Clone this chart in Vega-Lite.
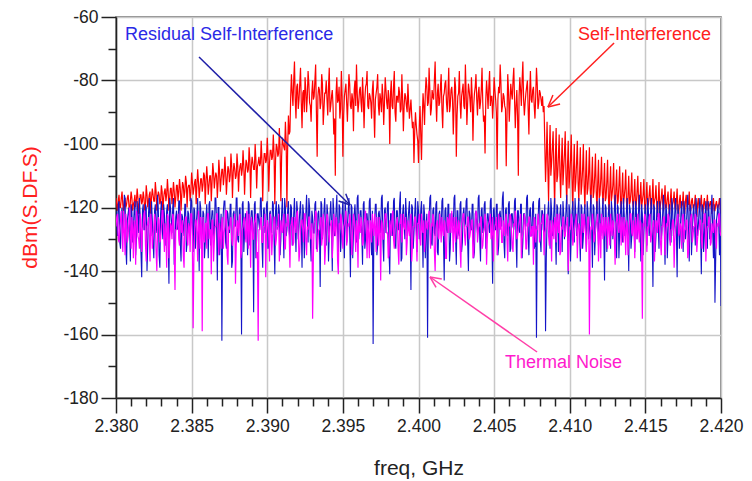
{
"$schema": "https://vega.github.io/schema/vega-lite/v6.json",
"width": 605, "height": 381,
"autosize": "none",
"padding": {"left": 116, "top": 17, "right": 31, "bottom": 83},
"background": "white",
"config": {"font": "Liberation Sans", "view": {"stroke": "#666", "strokeWidth": 1.5}},
"datasets": {
"d": [
{"f":2.3800,"a":-117,"b":-121,"c":-126},{"f":2.3801,"a":-121,"b":-129,"c":-122},{"f":2.3802,"a":-116,"b":-118,"c":-131},{"f":2.3803,"a":-120,"b":-133,"c":-124},{"f":2.3804,"a":-115,"b":-120,"c":-128},
{"f":2.3805,"a":-122,"b":-127,"c":-121},{"f":2.3806,"a":-117,"b":-117,"c":-135},{"f":2.3807,"a":-119,"b":-138,"c":-125},{"f":2.3808,"a":-116,"b":-122,"c":-129},{"f":2.3809,"a":-123,"b":-126,"c":-120},
{"f":2.3810,"a":-115,"b":-119,"c":-133},{"f":2.3811,"a":-121,"b":-131,"c":-127},{"f":2.3812,"a":-118,"b":-121,"c":-124},{"f":2.3813,"a":-120,"b":-135,"c":-138},{"f":2.3814,"a":-114,"b":-118,"c":-123},
{"f":2.3815,"a":-122,"b":-128,"c":-130},{"f":2.3816,"a":-116,"b":-123,"c":-122},{"f":2.3817,"a":-119,"b":-142,"c":-134},{"f":2.3818,"a":-115,"b":-119,"c":-126},{"f":2.3819,"a":-121,"b":-127,"c":-121},
{"f":2.3820,"a":-113,"b":-120,"c":-137},{"f":2.3821,"a":-120,"b":-132,"c":-125},{"f":2.3822,"a":-116,"b":-117,"c":-129},{"f":2.3823,"a":-122,"b":-129,"c":-122},{"f":2.3824,"a":-114,"b":-124,"c":-133},
{"f":2.3825,"a":-118,"b":-136,"c":-127},{"f":2.3826,"a":-112,"b":-119,"c":-124},{"f":2.3827,"a":-121,"b":-126,"c":-140},{"f":2.3828,"a":-115,"b":-121,"c":-123},{"f":2.3829,"a":-119,"b":-139,"c":-131},
{"f":2.3830,"a":-113,"b":-118,"c":-126},{"f":2.3831,"a":-122,"b":-130,"c":-121},{"f":2.3832,"a":-115,"b":-122,"c":-134},{"f":2.3833,"a":-118,"b":-127,"c":-128},{"f":2.3834,"a":-111,"b":-119,"c":-122},
{"f":2.3835,"a":-121,"b":-144,"c":-136},{"f":2.3836,"a":-114,"b":-120,"c":-125},{"f":2.3837,"a":-119,"b":-128,"c":-130},{"f":2.3838,"a":-112,"b":-117,"c":-123},{"f":2.3839,"a":-120,"b":-133,"c":-146},
{"f":2.3840,"a":-113,"b":-121,"c":-127},{"f":2.3841,"a":-118,"b":-126,"c":-122},{"f":2.3842,"a":-111,"b":-118,"c":-132},{"f":2.3843,"a":-121,"b":-137,"c":-126},{"f":2.3844,"a":-112,"b":-123,"c":-124},
{"f":2.3845,"a":-117,"b":-129,"c":-139},{"f":2.3846,"a":-110,"b":-119,"c":-123},{"f":2.3847,"a":-120,"b":-131,"c":-130},{"f":2.3848,"a":-113,"b":-122,"c":-125},{"f":2.3849,"a":-118,"b":-127,"c":-134},
{"f":2.3850,"a":-109,"b":-118,"c":-122},{"f":2.3851,"a":-116,"b":-134,"c":-158},{"f":2.3852,"a":-112,"b":-121,"c":-128},{"f":2.3853,"a":-119,"b":-126,"c":-124},{"f":2.3854,"a":-108,"b":-117,"c":-137},
{"f":2.3855,"a":-117,"b":-140,"c":-126},{"f":2.3856,"a":-111,"b":-120,"c":-123},{"f":2.3857,"a":-115,"b":-128,"c":-159},{"f":2.3858,"a":-109,"b":-122,"c":-129},{"f":2.3859,"a":-119,"b":-131,"c":-125},
{"f":2.3860,"a":-107,"b":-119,"c":-133},{"f":2.3861,"a":-116,"b":-136,"c":-122},{"f":2.3862,"a":-110,"b":-118,"c":-127},{"f":2.3863,"a":-118,"b":-125,"c":-141},{"f":2.3864,"a":-106,"b":-121,"c":-124},
{"f":2.3865,"a":-114,"b":-130,"c":-131},{"f":2.3866,"a":-109,"b":-117,"c":-126},{"f":2.3867,"a":-117,"b":-143,"c":-122},{"f":2.3868,"a":-105,"b":-120,"c":-135},{"f":2.3869,"a":-115,"b":-127,"c":-128},
{"f":2.3870,"a":-108,"b":-162,"c":-124},{"f":2.3871,"a":-113,"b":-121,"c":-133},{"f":2.3872,"a":-104,"b":-118,"c":-126},{"f":2.3873,"a":-116,"b":-133,"c":-121},{"f":2.3874,"a":-107,"b":-122,"c":-138},
{"f":2.3875,"a":-112,"b":-128,"c":-127},{"f":2.3876,"a":-103,"b":-119,"c":-123},{"f":2.3877,"a":-117,"b":-137,"c":-132},{"f":2.3878,"a":-106,"b":-121,"c":-125},{"f":2.3879,"a":-111,"b":-126,"c":-144},
{"f":2.3880,"a":-103,"b":-117,"c":-124},{"f":2.3881,"a":-115,"b":-131,"c":-129},{"f":2.3882,"a":-107,"b":-120,"c":-122},{"f":2.3883,"a":-110,"b":-160,"c":-134},{"f":2.3884,"a":-102,"b":-118,"c":-126},
{"f":2.3885,"a":-116,"b":-128,"c":-123},{"f":2.3886,"a":-105,"b":-122,"c":-131},{"f":2.3887,"a":-109,"b":-135,"c":-127},{"f":2.3888,"a":-101,"b":-119,"c":-122},{"f":2.3889,"a":-117,"b":-125,"c":-139},
{"f":2.3890,"a":-104,"b":-121,"c":-125},{"f":2.3891,"a":-108,"b":-153,"c":-130},{"f":2.3892,"a":-100,"b":-118,"c":-124},{"f":2.3893,"a":-114,"b":-130,"c":-136},{"f":2.3894,"a":-106,"b":-122,"c":-162},
{"f":2.3895,"a":-107,"b":-127,"c":-127},{"f":2.3896,"a":-99,"b":-117,"c":-123},{"f":2.3897,"a":-118,"b":-139,"c":-131},{"f":2.3898,"a":-103,"b":-120,"c":-126},{"f":2.3899,"a":-106,"b":-126,"c":-142},
{"f":2.3900,"a":-98,"b":-118,"c":-124},{"f":2.3901,"a":-115,"b":-132,"c":-129},{"f":2.3902,"a":-102,"b":-121,"c":-122},{"f":2.3903,"a":-105,"b":-128,"c":-135},{"f":2.3904,"a":-97,"b":-119,"c":-127},
{"f":2.3905,"a":-119,"b":-141,"c":-123},{"f":2.3906,"a":-100,"b":-118,"c":-130},{"f":2.3907,"a":-104,"b":-125,"c":-126},{"f":2.3908,"a":-95,"b":-121,"c":-137},{"f":2.3909,"a":-118,"b":-130,"c":-124},
{"f":2.3910,"a":-98,"b":-117,"c":-128},{"f":2.3911,"a":-101,"b":-136,"c":-122},{"f":2.3912,"a":-93,"b":-120,"c":-133},{"f":2.3913,"a":-120,"b":-127,"c":-126},{"f":2.3914,"a":-91,"b":-118,"c":-124},
{"f":2.3915,"a":-96,"b":-131,"c":-139},{"f":2.3916,"a":-78,"b":-120,"c":-125},{"f":2.3917,"a":-88,"b":-129,"c":-132},{"f":2.3918,"a":-74,"b":-117,"c":-123},{"f":2.3919,"a":-92,"b":-134,"c":-128},
{"f":2.3920,"a":-81,"b":-121,"c":-121},{"f":2.3921,"a":-86,"b":-126,"c":-137},{"f":2.3922,"a":-76,"b":-118,"c":-126},{"f":2.3923,"a":-95,"b":-139,"c":-124},{"f":2.3924,"a":-83,"b":-122,"c":-131},
{"f":2.3925,"a":-79,"b":-127,"c":-122},{"f":2.3926,"a":-90,"b":-116,"c":-135},{"f":2.3927,"a":-77,"b":-131,"c":-127},{"f":2.3928,"a":-87,"b":-120,"c":-123},{"f":2.3929,"a":-93,"b":-137,"c":-130},
{"f":2.3930,"a":-80,"b":-123,"c":-155},{"f":2.3931,"a":-85,"b":-128,"c":-125},{"f":2.3932,"a":-75,"b":-118,"c":-121},{"f":2.3933,"a":-104,"b":-133,"c":-134},{"f":2.3934,"a":-82,"b":-121,"c":-127},
{"f":2.3935,"a":-89,"b":-145,"c":-124},{"f":2.3936,"a":-78,"b":-119,"c":-132},{"f":2.3937,"a":-94,"b":-126,"c":-122},{"f":2.3938,"a":-84,"b":-117,"c":-138},{"f":2.3939,"a":-80,"b":-132,"c":-126},
{"f":2.3940,"a":-91,"b":-122,"c":-123},{"f":2.3941,"a":-76,"b":-128,"c":-131},{"f":2.3942,"a":-88,"b":-118,"c":-125},{"f":2.3943,"a":-83,"b":-140,"c":-136},{"f":2.3944,"a":-97,"b":-121,"c":-122},
{"f":2.3945,"a":-110,"b":-127,"c":-129},{"f":2.3946,"a":-79,"b":-116,"c":-124},{"f":2.3947,"a":-86,"b":-134,"c":-141},{"f":2.3948,"a":-92,"b":-120,"c":-127},{"f":2.3949,"a":-77,"b":-129,"c":-123},
{"f":2.3950,"a":-104,"b":-118,"c":-133},{"f":2.3951,"a":-85,"b":-136,"c":-125},{"f":2.3952,"a":-81,"b":-122,"c":-121},{"f":2.3953,"a":-93,"b":-126,"c":-130},{"f":2.3954,"a":-78,"b":-117,"c":-126},
{"f":2.3955,"a":-88,"b":-142,"c":-124},{"f":2.3956,"a":-84,"b":-120,"c":-135},{"f":2.3957,"a":-96,"b":-128,"c":-122},{"f":2.3958,"a":-80,"b":-119,"c":-128},{"f":2.3959,"a":-75,"b":-131,"c":-124},
{"f":2.3960,"a":-90,"b":-116,"c":-139},{"f":2.3961,"a":-83,"b":-125,"c":-127},{"f":2.3962,"a":-87,"b":-121,"c":-123},{"f":2.3963,"a":-79,"b":-138,"c":-132},{"f":2.3964,"a":-95,"b":-118,"c":-125},
{"f":2.3965,"a":-82,"b":-130,"c":-121},{"f":2.3966,"a":-77,"b":-122,"c":-136},{"f":2.3967,"a":-89,"b":-127,"c":-128},{"f":2.3968,"a":-85,"b":-117,"c":-124},{"f":2.3969,"a":-92,"b":-135,"c":-131},
{"f":2.3970,"a":-80,"b":-163,"c":-126},{"f":2.3971,"a":-98,"b":-124,"c":-122},{"f":2.3972,"a":-84,"b":-119,"c":-134},{"f":2.3973,"a":-78,"b":-132,"c":-127},{"f":2.3974,"a":-91,"b":-121,"c":-123},
{"f":2.3975,"a":-86,"b":-128,"c":-143},{"f":2.3976,"a":-81,"b":-116,"c":-125},{"f":2.3977,"a":-94,"b":-137,"c":-130},{"f":2.3978,"a":-79,"b":-120,"c":-122},{"f":2.3979,"a":-87,"b":-126,"c":-128},
{"f":2.3980,"a":-83,"b":-118,"c":-136},{"f":2.3981,"a":-100,"b":-141,"c":-124},{"f":2.3982,"a":-80,"b":-122,"c":-129},{"f":2.3983,"a":-89,"b":-129,"c":-121},{"f":2.3984,"a":-77,"b":-117,"c":-133},
{"f":2.3985,"a":-93,"b":-133,"c":-126},{"f":2.3986,"a":-85,"b":-121,"c":-123},{"f":2.3987,"a":-82,"b":-127,"c":-138},{"f":2.3988,"a":-90,"b":-115,"c":-125},{"f":2.3989,"a":-78,"b":-136,"c":-131},
{"f":2.3990,"a":-96,"b":-119,"c":-122},{"f":2.3991,"a":-84,"b":-130,"c":-127},{"f":2.3992,"a":-88,"b":-122,"c":-135},{"f":2.3993,"a":-81,"b":-125,"c":-124},{"f":2.3994,"a":-92,"b":-118,"c":-129},
{"f":2.3995,"a":-86,"b":-146,"c":-122},{"f":2.3996,"a":-95,"b":-120,"c":-132},{"f":2.3997,"a":-106,"b":-128,"c":-126},{"f":2.3998,"a":-90,"b":-117,"c":-123},{"f":2.3999,"a":-97,"b":-134,"c":-137},
{"f":2.4000,"a":-106,"b":-121,"c":-125},{"f":2.4001,"a":-88,"b":-127,"c":-130},{"f":2.4002,"a":-105,"b":-118,"c":-122},{"f":2.4003,"a":-84,"b":-139,"c":-128},{"f":2.4004,"a":-94,"b":-122,"c":-134},
{"f":2.4005,"a":-79,"b":-126,"c":-124},{"f":2.4006,"a":-88,"b":-161,"c":-127},{"f":2.4007,"a":-76,"b":-124,"c":-121},{"f":2.4008,"a":-91,"b":-116,"c":-133},{"f":2.4009,"a":-83,"b":-132,"c":-126},
{"f":2.4010,"a":-86,"b":-120,"c":-123},{"f":2.4011,"a":-74,"b":-129,"c":-140},{"f":2.4012,"a":-93,"b":-118,"c":-125},{"f":2.4013,"a":-81,"b":-135,"c":-129},{"f":2.4014,"a":-87,"b":-121,"c":-122},
{"f":2.4015,"a":-78,"b":-127,"c":-131},{"f":2.4016,"a":-95,"b":-117,"c":-127},{"f":2.4017,"a":-84,"b":-143,"c":-124},{"f":2.4018,"a":-80,"b":-120,"c":-136},{"f":2.4019,"a":-90,"b":-128,"c":-123},
{"f":2.4020,"a":-76,"b":-119,"c":-128},{"f":2.4021,"a":-88,"b":-133,"c":-125},{"f":2.4022,"a":-82,"b":-122,"c":-121},{"f":2.4023,"a":-97,"b":-126,"c":-134},{"f":2.4024,"a":-79,"b":-116,"c":-127},
{"f":2.4025,"a":-104,"b":-138,"c":-123},{"f":2.4026,"a":-85,"b":-121,"c":-130},{"f":2.4027,"a":-77,"b":-129,"c":-125},{"f":2.4028,"a":-92,"b":-118,"c":-139},{"f":2.4029,"a":-83,"b":-131,"c":-124},
{"f":2.4030,"a":-88,"b":-120,"c":-122},{"f":2.4031,"a":-75,"b":-125,"c":-132},{"f":2.4032,"a":-94,"b":-117,"c":-126},{"f":2.4033,"a":-81,"b":-140,"c":-123},{"f":2.4034,"a":-86,"b":-122,"c":-129},
{"f":2.4035,"a":-79,"b":-127,"c":-124},{"f":2.4036,"a":-99,"b":-119,"c":-136},{"f":2.4037,"a":-84,"b":-134,"c":-127},{"f":2.4038,"a":-78,"b":-121,"c":-121},{"f":2.4039,"a":-91,"b":-128,"c":-131},
{"f":2.4040,"a":-82,"b":-116,"c":-125},{"f":2.4041,"a":-87,"b":-137,"c":-123},{"f":2.4042,"a":-76,"b":-120,"c":-133},{"f":2.4043,"a":-93,"b":-126,"c":-128},{"f":2.4044,"a":-103,"b":-118,"c":-122},
{"f":2.4045,"a":-80,"b":-131,"c":-138},{"f":2.4046,"a":-89,"b":-122,"c":-126},{"f":2.4047,"a":-77,"b":-128,"c":-124},{"f":2.4048,"a":-85,"b":-117,"c":-130},{"f":2.4049,"a":-92,"b":-144,"c":-123},
{"f":2.4050,"a":-79,"b":-120,"c":-128},{"f":2.4051,"a":-86,"b":-127,"c":-125},{"f":2.4052,"a":-108,"b":-119,"c":-135},{"f":2.4053,"a":-82,"b":-132,"c":-122},{"f":2.4054,"a":-75,"b":-121,"c":-127},
{"f":2.4055,"a":-90,"b":-126,"c":-131},{"f":2.4056,"a":-84,"b":-115,"c":-124},{"f":2.4057,"a":-88,"b":-136,"c":-129},{"f":2.4058,"a":-107,"b":-120,"c":-122},{"f":2.4059,"a":-78,"b":-129,"c":-137},
{"f":2.4060,"a":-93,"b":-118,"c":-126},{"f":2.4061,"a":-81,"b":-133,"c":-123},{"f":2.4062,"a":-86,"b":-122,"c":-132},{"f":2.4063,"a":-76,"b":-127,"c":-125},{"f":2.4064,"a":-95,"b":-117,"c":-121},
{"f":2.4065,"a":-83,"b":-139,"c":-130},{"f":2.4066,"a":-110,"b":-121,"c":-127},{"f":2.4067,"a":-79,"b":-128,"c":-124},{"f":2.4068,"a":-88,"b":-119,"c":-136},{"f":2.4069,"a":-74,"b":-131,"c":-128},
{"f":2.4070,"a":-91,"b":-122,"c":-122},{"f":2.4071,"a":-84,"b":-126,"c":-133},{"f":2.4072,"a":-80,"b":-116,"c":-125},{"f":2.4073,"a":-97,"b":-135,"c":-123},{"f":2.4074,"a":-77,"b":-120,"c":-129},
{"f":2.4075,"a":-87,"b":-129,"c":-126},{"f":2.4076,"a":-82,"b":-118,"c":-138},{"f":2.4077,"a":-92,"b":-132,"c":-124},{"f":2.4078,"a":-76,"b":-161,"c":-127},{"f":2.4079,"a":-89,"b":-125,"c":-122},
{"f":2.4080,"a":-83,"b":-117,"c":-131},{"f":2.4081,"a":-86,"b":-134,"c":-125},{"f":2.4082,"a":-85,"b":-121,"c":-123},{"f":2.4083,"a":-88,"b":-128,"c":-135},{"f":2.4084,"a":-112,"b":-159,"c":-127},
{"f":2.4085,"a":-93,"b":-124,"c":-122},{"f":2.4086,"a":-118,"b":-118,"c":-129},{"f":2.4087,"a":-94,"b":-133,"c":-124},{"f":2.4088,"a":-106,"b":-121,"c":-137},{"f":2.4089,"a":-96,"b":-127,"c":-126},
{"f":2.4090,"a":-120,"b":-117,"c":-123},{"f":2.4091,"a":-95,"b":-138,"c":-131},{"f":2.4092,"a":-110,"b":-120,"c":-125},{"f":2.4093,"a":-97,"b":-129,"c":-122},{"f":2.4094,"a":-117,"b":-119,"c":-134},
{"f":2.4095,"a":-98,"b":-134,"c":-127},{"f":2.4096,"a":-108,"b":-122,"c":-123},{"f":2.4097,"a":-96,"b":-126,"c":-129},{"f":2.4098,"a":-119,"b":-116,"c":-125},{"f":2.4099,"a":-99,"b":-141,"c":-140},
{"f":2.4100,"a":-110,"b":-121,"c":-126},{"f":2.4101,"a":-97,"b":-128,"c":-122},{"f":2.4102,"a":-121,"b":-118,"c":-132},{"f":2.4103,"a":-100,"b":-131,"c":-127},{"f":2.4104,"a":-112,"b":-122,"c":-124},
{"f":2.4105,"a":-99,"b":-126,"c":-136},{"f":2.4106,"a":-118,"b":-117,"c":-125},{"f":2.4107,"a":-101,"b":-137,"c":-130},{"f":2.4108,"a":-113,"b":-120,"c":-122},{"f":2.4109,"a":-100,"b":-129,"c":-128},
{"f":2.4110,"a":-120,"b":-119,"c":-125},{"f":2.4111,"a":-102,"b":-134,"c":-134},{"f":2.4112,"a":-114,"b":-121,"c":-123},{"f":2.4113,"a":-101,"b":-127,"c":-160},{"f":2.4114,"a":-119,"b":-116,"c":-126},
{"f":2.4115,"a":-104,"b":-139,"c":-122},{"f":2.4116,"a":-115,"b":-120,"c":-131},{"f":2.4117,"a":-103,"b":-128,"c":-127},{"f":2.4118,"a":-121,"b":-118,"c":-124},{"f":2.4119,"a":-105,"b":-132,"c":-137},
{"f":2.4120,"a":-116,"b":-122,"c":-125},{"f":2.4121,"a":-104,"b":-126,"c":-122},{"f":2.4122,"a":-119,"b":-117,"c":-130},{"f":2.4123,"a":-106,"b":-143,"c":-127},{"f":2.4124,"a":-117,"b":-120,"c":-123},
{"f":2.4125,"a":-105,"b":-129,"c":-133},{"f":2.4126,"a":-122,"b":-119,"c":-126},{"f":2.4127,"a":-107,"b":-133,"c":-122},{"f":2.4128,"a":-116,"b":-121,"c":-129},{"f":2.4129,"a":-106,"b":-127,"c":-125},
{"f":2.4130,"a":-120,"b":-116,"c":-138},{"f":2.4131,"a":-108,"b":-136,"c":-124},{"f":2.4132,"a":-118,"b":-120,"c":-127},{"f":2.4133,"a":-107,"b":-128,"c":-122},{"f":2.4134,"a":-121,"b":-118,"c":-132},
{"f":2.4135,"a":-109,"b":-131,"c":-126},{"f":2.4136,"a":-117,"b":-122,"c":-123},{"f":2.4137,"a":-108,"b":-126,"c":-135},{"f":2.4138,"a":-122,"b":-117,"c":-125},{"f":2.4139,"a":-110,"b":-140,"c":-129},
{"f":2.4140,"a":-118,"b":-121,"c":-122},{"f":2.4141,"a":-109,"b":-129,"c":-128},{"f":2.4142,"a":-120,"b":-118,"c":-124},{"f":2.4143,"a":-111,"b":-134,"c":-136},{"f":2.4144,"a":-119,"b":-120,"c":-127},
{"f":2.4145,"a":-110,"b":-127,"c":-122},{"f":2.4146,"a":-121,"b":-116,"c":-131},{"f":2.4147,"a":-112,"b":-137,"c":-125},{"f":2.4148,"a":-118,"b":-122,"c":-155},{"f":2.4149,"a":-111,"b":-128,"c":-126},
{"f":2.4150,"a":-122,"b":-119,"c":-123},{"f":2.4151,"a":-112,"b":-132,"c":-134},{"f":2.4152,"a":-119,"b":-121,"c":-127},{"f":2.4153,"a":-113,"b":-126,"c":-122},{"f":2.4154,"a":-121,"b":-117,"c":-129},
{"f":2.4155,"a":-111,"b":-145,"c":-125},{"f":2.4156,"a":-118,"b":-120,"c":-137},{"f":2.4157,"a":-113,"b":-129,"c":-124},{"f":2.4158,"a":-123,"b":-118,"c":-128},{"f":2.4159,"a":-112,"b":-133,"c":-122},
{"f":2.4160,"a":-119,"b":-122,"c":-131},{"f":2.4161,"a":-114,"b":-127,"c":-126},{"f":2.4162,"a":-121,"b":-116,"c":-123},{"f":2.4163,"a":-113,"b":-138,"c":-135},{"f":2.4164,"a":-120,"b":-121,"c":-125},
{"f":2.4165,"a":-115,"b":-128,"c":-122},{"f":2.4166,"a":-122,"b":-119,"c":-130},{"f":2.4167,"a":-114,"b":-131,"c":-127},{"f":2.4168,"a":-119,"b":-120,"c":-124},{"f":2.4169,"a":-115,"b":-126,"c":-139},
{"f":2.4170,"a":-121,"b":-117,"c":-126},{"f":2.4171,"a":-114,"b":-142,"c":-123},{"f":2.4172,"a":-123,"b":-122,"c":-129},{"f":2.4173,"a":-116,"b":-129,"c":-125},{"f":2.4174,"a":-120,"b":-118,"c":-133},
{"f":2.4175,"a":-115,"b":-134,"c":-122},{"f":2.4176,"a":-122,"b":-121,"c":-127},{"f":2.4177,"a":-116,"b":-127,"c":-124},{"f":2.4178,"a":-119,"b":-116,"c":-136},{"f":2.4179,"a":-115,"b":-137,"c":-128},
{"f":2.4180,"a":-121,"b":-120,"c":-123},{"f":2.4181,"a":-117,"b":-128,"c":-131},{"f":2.4182,"a":-120,"b":-119,"c":-126},{"f":2.4183,"a":-116,"b":-132,"c":-122},{"f":2.4184,"a":-123,"b":-122,"c":-134},
{"f":2.4185,"a":-117,"b":-126,"c":-127},{"f":2.4186,"a":-120,"b":-117,"c":-124},{"f":2.4187,"a":-116,"b":-141,"c":-130},{"f":2.4188,"a":-122,"b":-120,"c":-125},{"f":2.4189,"a":-117,"b":-129,"c":-122},
{"f":2.4190,"a":-121,"b":-118,"c":-137},{"f":2.4191,"a":-116,"b":-133,"c":-126},{"f":2.4192,"a":-120,"b":-121,"c":-123},{"f":2.4193,"a":-118,"b":-127,"c":-132},{"f":2.4194,"a":-122,"b":-116,"c":-125},
{"f":2.4195,"a":-117,"b":-136,"c":-128},{"f":2.4196,"a":-121,"b":-150,"c":-124},{"f":2.4197,"a":-118,"b":-124,"c":-133},{"f":2.4198,"a":-120,"b":-119,"c":-126},{"f":2.4199,"a":-117,"b":-135,"c":-122},
{"f":2.4200,"a":-122,"b":-151,"c":-129},
{"f":2.38005,"a":-119,"b":-125,"c":-123},{"f":2.38015,"a":-118,"b":-119,"c":-130},{"f":2.38025,"a":-120,"b":-131,"c":-126},{"f":2.38035,"a":-117,"b":-122,"c":-121},{"f":2.38045,"a":-119,"b":-128,"c":-134},
{"f":2.38055,"a":-118,"b":-116,"c":-127},{"f":2.38065,"a":-120,"b":-133,"c":-122},{"f":2.38075,"a":-117,"b":-124,"c":-131},{"f":2.38085,"a":-119,"b":-120,"c":-125},{"f":2.38095,"a":-118,"b":-137,"c":-128},
{"f":2.38105,"a":-117,"b":-121,"c":-123},{"f":2.38115,"a":-119,"b":-126,"c":-136},{"f":2.38125,"a":-116,"b":-118,"c":-126},{"f":2.38135,"a":-118,"b":-130,"c":-121},{"f":2.38145,"a":-117,"b":-123,"c":-129},
{"f":2.38155,"a":-119,"b":-117,"c":-133},{"f":2.38165,"a":-116,"b":-134,"c":-124},{"f":2.38175,"a":-118,"b":-121,"c":-127},{"f":2.38185,"a":-117,"b":-127,"c":-122},{"f":2.38195,"a":-119,"b":-119,"c":-132},
{"f":2.38205,"a":-116,"b":-140,"c":-126},{"f":2.38215,"a":-118,"b":-122,"c":-123},{"f":2.38225,"a":-115,"b":-125,"c":-137},{"f":2.38235,"a":-117,"b":-118,"c":-125},{"f":2.38245,"a":-116,"b":-131,"c":-129},
{"f":2.38255,"a":-118,"b":-121,"c":-122},{"f":2.38265,"a":-115,"b":-128,"c":-134},{"f":2.38275,"a":-117,"b":-116,"c":-127},{"f":2.38285,"a":-116,"b":-135,"c":-124},{"f":2.38295,"a":-118,"b":-122,"c":-130},
{"f":2.38305,"a":-115,"b":-126,"c":-121},{"f":2.38315,"a":-117,"b":-119,"c":-128},{"f":2.38325,"a":-114,"b":-132,"c":-125},{"f":2.38335,"a":-116,"b":-121,"c":-139},{"f":2.38345,"a":-115,"b":-129,"c":-123},
{"f":2.38355,"a":-117,"b":-117,"c":-131},{"f":2.38365,"a":-114,"b":-124,"c":-126},{"f":2.38375,"a":-116,"b":-120,"c":-122},{"f":2.38385,"a":-115,"b":-138,"c":-133},{"f":2.38395,"a":-117,"b":-123,"c":-127},
{"f":2.38405,"a":-113,"b":-127,"c":-124},{"f":2.38415,"a":-115,"b":-118,"c":-130},{"f":2.38425,"a":-114,"b":-131,"c":-121},{"f":2.38435,"a":-116,"b":-122,"c":-128},{"f":2.38445,"a":-113,"b":-126,"c":-135},
{"f":2.38455,"a":-115,"b":-119,"c":-125},{"f":2.38465,"a":-112,"b":-134,"c":-123},{"f":2.38475,"a":-114,"b":-121,"c":-132},{"f":2.38485,"a":-113,"b":-128,"c":-126},{"f":2.38495,"a":-115,"b":-117,"c":-122},
{"f":2.38505,"a":-112,"b":-125,"c":-129},{"f":2.38515,"a":-114,"b":-120,"c":-136},{"f":2.38525,"a":-111,"b":-133,"c":-124},{"f":2.38535,"a":-113,"b":-122,"c":-128},{"f":2.38545,"a":-112,"b":-127,"c":-121},
{"f":2.38555,"a":-114,"b":-118,"c":-133},{"f":2.38565,"a":-111,"b":-130,"c":-126},{"f":2.38575,"a":-113,"b":-121,"c":-123},{"f":2.38585,"a":-110,"b":-136,"c":-131},{"f":2.38595,"a":-112,"b":-123,"c":-125},
{"f":2.38605,"a":-111,"b":-126,"c":-122},{"f":2.38615,"a":-113,"b":-119,"c":-130},{"f":2.38625,"a":-110,"b":-132,"c":-127},{"f":2.38635,"a":-112,"b":-121,"c":-124},{"f":2.38645,"a":-109,"b":-128,"c":-137},
{"f":2.38655,"a":-111,"b":-117,"c":-126},{"f":2.38665,"a":-110,"b":-125,"c":-122},{"f":2.38675,"a":-112,"b":-120,"c":-129},{"f":2.38685,"a":-109,"b":-135,"c":-125},{"f":2.38695,"a":-111,"b":-122,"c":-133},
{"f":2.38705,"a":-108,"b":-127,"c":-123},{"f":2.38715,"a":-110,"b":-118,"c":-128},{"f":2.38725,"a":-109,"b":-131,"c":-121},{"f":2.38735,"a":-111,"b":-121,"c":-135},{"f":2.38745,"a":-108,"b":-126,"c":-126},
{"f":2.38755,"a":-110,"b":-119,"c":-124},{"f":2.38765,"a":-107,"b":-139,"c":-130},{"f":2.38775,"a":-109,"b":-122,"c":-127},{"f":2.38785,"a":-108,"b":-125,"c":-122},{"f":2.38795,"a":-110,"b":-117,"c":-132},
{"f":2.38805,"a":-107,"b":-130,"c":-125},{"f":2.38815,"a":-109,"b":-121,"c":-123},{"f":2.38825,"a":-106,"b":-128,"c":-136},{"f":2.38835,"a":-108,"b":-119,"c":-127},{"f":2.38845,"a":-107,"b":-134,"c":-124},
{"f":2.38855,"a":-109,"b":-122,"c":-129},{"f":2.38865,"a":-106,"b":-126,"c":-121},{"f":2.38875,"a":-108,"b":-118,"c":-133},{"f":2.38885,"a":-105,"b":-132,"c":-126},{"f":2.38895,"a":-107,"b":-121,"c":-123},
{"f":2.38905,"a":-106,"b":-127,"c":-130},{"f":2.38915,"a":-108,"b":-119,"c":-125},{"f":2.38925,"a":-105,"b":-136,"c":-122},{"f":2.38935,"a":-107,"b":-122,"c":-134},{"f":2.38945,"a":-104,"b":-125,"c":-127},
{"f":2.38955,"a":-106,"b":-117,"c":-124},{"f":2.38965,"a":-105,"b":-131,"c":-131},{"f":2.38975,"a":-107,"b":-121,"c":-126},{"f":2.38985,"a":-103,"b":-128,"c":-122},{"f":2.38995,"a":-105,"b":-119,"c":-128},
{"f":2.39005,"a":-104,"b":-133,"c":-125},{"f":2.39015,"a":-106,"b":-122,"c":-137},{"f":2.39025,"a":-102,"b":-126,"c":-124},{"f":2.39035,"a":-104,"b":-118,"c":-129},{"f":2.39045,"a":-103,"b":-130,"c":-123},
{"f":2.39055,"a":-105,"b":-121,"c":-132},{"f":2.39065,"a":-101,"b":-127,"c":-126},{"f":2.39075,"a":-103,"b":-119,"c":-122},{"f":2.39085,"a":-102,"b":-135,"c":-130},{"f":2.39095,"a":-104,"b":-122,"c":-127},
{"f":2.39105,"a":-100,"b":-125,"c":-124},{"f":2.39115,"a":-102,"b":-117,"c":-133},{"f":2.39125,"a":-99,"b":-129,"c":-125},{"f":2.39135,"a":-101,"b":-121,"c":-122},{"f":2.39145,"a":-97,"b":-127,"c":-129},
{"f":2.39155,"a":-85,"b":-119,"c":-126},{"f":2.39165,"a":-84,"b":-132,"c":-123},{"f":2.39175,"a":-80,"b":-122,"c":-131},{"f":2.39185,"a":-86,"b":-126,"c":-125},{"f":2.39195,"a":-82,"b":-118,"c":-122},
{"f":2.39205,"a":-89,"b":-130,"c":-128},{"f":2.39215,"a":-81,"b":-121,"c":-134},{"f":2.39225,"a":-87,"b":-127,"c":-124},{"f":2.39235,"a":-84,"b":-119,"c":-127},{"f":2.39245,"a":-90,"b":-136,"c":-122},
{"f":2.39255,"a":-83,"b":-122,"c":-130},{"f":2.39265,"a":-85,"b":-125,"c":-126},{"f":2.39275,"a":-81,"b":-117,"c":-123},{"f":2.39285,"a":-88,"b":-131,"c":-129},{"f":2.39295,"a":-84,"b":-121,"c":-125},
{"f":2.39305,"a":-86,"b":-128,"c":-136},{"f":2.39315,"a":-80,"b":-119,"c":-124},{"f":2.39325,"a":-90,"b":-133,"c":-122},{"f":2.39335,"a":-85,"b":-122,"c":-131},{"f":2.39345,"a":-83,"b":-126,"c":-127},
{"f":2.39355,"a":-87,"b":-118,"c":-123},{"f":2.39365,"a":-81,"b":-130,"c":-129},{"f":2.39375,"a":-89,"b":-121,"c":-125},{"f":2.39385,"a":-84,"b":-127,"c":-133},{"f":2.39395,"a":-86,"b":-119,"c":-122},
{"f":2.39405,"a":-82,"b":-137,"c":-128},{"f":2.39415,"a":-90,"b":-122,"c":-126},{"f":2.39425,"a":-85,"b":-125,"c":-124},{"f":2.39435,"a":-88,"b":-117,"c":-130},{"f":2.39445,"a":-92,"b":-129,"c":-127},
{"f":2.39455,"a":-84,"b":-121,"c":-123},{"f":2.39465,"a":-87,"b":-128,"c":-137},{"f":2.39475,"a":-82,"b":-119,"c":-125},{"f":2.39485,"a":-89,"b":-134,"c":-122},{"f":2.39495,"a":-85,"b":-122,"c":-129},
{"f":2.39505,"a":-91,"b":-126,"c":-126},{"f":2.39515,"a":-83,"b":-118,"c":-123},{"f":2.39525,"a":-87,"b":-131,"c":-132},{"f":2.39535,"a":-85,"b":-121,"c":-125},{"f":2.39545,"a":-81,"b":-127,"c":-122},
{"f":2.39555,"a":-89,"b":-119,"c":-130},{"f":2.39565,"a":-86,"b":-136,"c":-127},{"f":2.39575,"a":-83,"b":-122,"c":-124},{"f":2.39585,"a":-88,"b":-125,"c":-134},{"f":2.39595,"a":-84,"b":-117,"c":-126},
{"f":2.39605,"a":-87,"b":-130,"c":-122},{"f":2.39615,"a":-82,"b":-121,"c":-128},{"f":2.39625,"a":-90,"b":-128,"c":-125},{"f":2.39635,"a":-85,"b":-119,"c":-131},{"f":2.39645,"a":-86,"b":-133,"c":-123},
{"f":2.39655,"a":-81,"b":-122,"c":-127},{"f":2.39665,"a":-88,"b":-126,"c":-124},{"f":2.39675,"a":-84,"b":-118,"c":-136},{"f":2.39685,"a":-87,"b":-129,"c":-125},{"f":2.39695,"a":-83,"b":-121,"c":-122},
{"f":2.39705,"a":-89,"b":-127,"c":-129},{"f":2.39715,"a":-86,"b":-119,"c":-126},{"f":2.39725,"a":-82,"b":-135,"c":-123},{"f":2.39735,"a":-88,"b":-122,"c":-132},{"f":2.39745,"a":-84,"b":-125,"c":-127},
{"f":2.39755,"a":-90,"b":-117,"c":-124},{"f":2.39765,"a":-85,"b":-131,"c":-130},{"f":2.39775,"a":-87,"b":-121,"c":-125},{"f":2.39785,"a":-83,"b":-128,"c":-122},{"f":2.39795,"a":-89,"b":-119,"c":-128},
{"f":2.39805,"a":-86,"b":-134,"c":-135},{"f":2.39815,"a":-84,"b":-122,"c":-126},{"f":2.39825,"a":-88,"b":-126,"c":-123},{"f":2.39835,"a":-82,"b":-118,"c":-130},{"f":2.39845,"a":-90,"b":-130,"c":-127},
{"f":2.39855,"a":-85,"b":-121,"c":-124},{"f":2.39865,"a":-87,"b":-127,"c":-133},{"f":2.39875,"a":-84,"b":-119,"c":-125},{"f":2.39885,"a":-89,"b":-137,"c":-122},{"f":2.39895,"a":-86,"b":-122,"c":-128},
{"f":2.39905,"a":-88,"b":-125,"c":-126},{"f":2.39915,"a":-85,"b":-117,"c":-123},{"f":2.39925,"a":-90,"b":-129,"c":-131},{"f":2.39935,"a":-87,"b":-121,"c":-127},{"f":2.39945,"a":-89,"b":-128,"c":-124},
{"f":2.39955,"a":-91,"b":-119,"c":-137},{"f":2.39965,"a":-93,"b":-133,"c":-126},{"f":2.39975,"a":-96,"b":-122,"c":-123},{"f":2.39985,"a":-94,"b":-126,"c":-129},{"f":2.39995,"a":-99,"b":-118,"c":-125},
{"f":2.40005,"a":-95,"b":-130,"c":-122},{"f":2.40015,"a":-97,"b":-121,"c":-132},{"f":2.40025,"a":-92,"b":-127,"c":-127},{"f":2.40035,"a":-88,"b":-119,"c":-124},{"f":2.40045,"a":-84,"b":-136,"c":-130},
{"f":2.40055,"a":-82,"b":-122,"c":-126},{"f":2.40065,"a":-87,"b":-125,"c":-123},{"f":2.40075,"a":-83,"b":-117,"c":-128},{"f":2.40085,"a":-89,"b":-131,"c":-125},{"f":2.40095,"a":-85,"b":-121,"c":-122},
{"f":2.40105,"a":-80,"b":-128,"c":-134},{"f":2.40115,"a":-86,"b":-119,"c":-127},{"f":2.40125,"a":-84,"b":-134,"c":-124},{"f":2.40135,"a":-88,"b":-122,"c":-130},{"f":2.40145,"a":-82,"b":-126,"c":-126},
{"f":2.40155,"a":-89,"b":-118,"c":-123},{"f":2.40165,"a":-85,"b":-130,"c":-129},{"f":2.40175,"a":-81,"b":-121,"c":-125},{"f":2.40185,"a":-87,"b":-127,"c":-136},{"f":2.40195,"a":-84,"b":-119,"c":-124},
{"f":2.40205,"a":-90,"b":-137,"c":-122},{"f":2.40215,"a":-83,"b":-122,"c":-128},{"f":2.40225,"a":-86,"b":-125,"c":-126},{"f":2.40235,"a":-88,"b":-117,"c":-123},{"f":2.40245,"a":-82,"b":-129,"c":-131},
{"f":2.40255,"a":-91,"b":-121,"c":-127},{"f":2.40265,"a":-84,"b":-128,"c":-124},{"f":2.40275,"a":-87,"b":-119,"c":-133},{"f":2.40285,"a":-85,"b":-134,"c":-125},{"f":2.40295,"a":-81,"b":-122,"c":-122},
{"f":2.40305,"a":-89,"b":-126,"c":-129},{"f":2.40315,"a":-84,"b":-118,"c":-126},{"f":2.40325,"a":-87,"b":-131,"c":-123},{"f":2.40335,"a":-83,"b":-121,"c":-130},{"f":2.40345,"a":-90,"b":-127,"c":-127},
{"f":2.40355,"a":-85,"b":-119,"c":-124},{"f":2.40365,"a":-88,"b":-136,"c":-135},{"f":2.40375,"a":-82,"b":-122,"c":-125},{"f":2.40385,"a":-86,"b":-125,"c":-122},{"f":2.40395,"a":-84,"b":-117,"c":-128},
{"f":2.40405,"a":-89,"b":-130,"c":-126},{"f":2.40415,"a":-83,"b":-121,"c":-123},{"f":2.40425,"a":-87,"b":-128,"c":-132},{"f":2.40435,"a":-91,"b":-119,"c":-127},{"f":2.40445,"a":-86,"b":-133,"c":-124},
{"f":2.40455,"a":-84,"b":-122,"c":-130},{"f":2.40465,"a":-82,"b":-126,"c":-125},{"f":2.40475,"a":-88,"b":-118,"c":-122},{"f":2.40485,"a":-85,"b":-129,"c":-128},{"f":2.40495,"a":-87,"b":-121,"c":-137},
{"f":2.40505,"a":-83,"b":-127,"c":-126},{"f":2.40515,"a":-90,"b":-119,"c":-123},{"f":2.40525,"a":-86,"b":-135,"c":-129},{"f":2.40535,"a":-84,"b":-122,"c":-126},{"f":2.40545,"a":-81,"b":-125,"c":-123},
{"f":2.40555,"a":-88,"b":-117,"c":-131},{"f":2.40565,"a":-85,"b":-131,"c":-127},{"f":2.40575,"a":-89,"b":-121,"c":-124},{"f":2.40585,"a":-92,"b":-128,"c":-130},{"f":2.40595,"a":-83,"b":-119,"c":-125},
{"f":2.40605,"a":-87,"b":-134,"c":-122},{"f":2.40615,"a":-84,"b":-122,"c":-128},{"f":2.40625,"a":-80,"b":-126,"c":-134},{"f":2.40635,"a":-86,"b":-118,"c":-126},{"f":2.40645,"a":-88,"b":-130,"c":-123},
{"f":2.40655,"a":-91,"b":-121,"c":-129},{"f":2.40665,"a":-85,"b":-127,"c":-125},{"f":2.40675,"a":-83,"b":-119,"c":-122},{"f":2.40685,"a":-80,"b":-136,"c":-130},{"f":2.40695,"a":-86,"b":-122,"c":-127},
{"f":2.40705,"a":-87,"b":-125,"c":-124},{"f":2.40715,"a":-82,"b":-117,"c":-133},{"f":2.40725,"a":-89,"b":-129,"c":-126},{"f":2.40735,"a":-84,"b":-121,"c":-123},{"f":2.40745,"a":-86,"b":-128,"c":-129},
{"f":2.40755,"a":-83,"b":-119,"c":-126},{"f":2.40765,"a":-88,"b":-133,"c":-123},{"f":2.40775,"a":-85,"b":-122,"c":-131},{"f":2.40785,"a":-81,"b":-126,"c":-127},{"f":2.40795,"a":-87,"b":-118,"c":-124},
{"f":2.40805,"a":-84,"b":-130,"c":-130},{"f":2.40815,"a":-88,"b":-121,"c":-125},{"f":2.40825,"a":-90,"b":-127,"c":-122},{"f":2.40835,"a":-100,"b":-119,"c":-128},{"f":2.40845,"a":-104,"b":-136,"c":-126},
{"f":2.40855,"a":-107,"b":-122,"c":-123},{"f":2.40865,"a":-103,"b":-125,"c":-132},{"f":2.40875,"a":-110,"b":-117,"c":-127},{"f":2.40885,"a":-101,"b":-129,"c":-124},{"f":2.40895,"a":-108,"b":-121,"c":-130},
{"f":2.40905,"a":-105,"b":-128,"c":-125},{"f":2.40915,"a":-112,"b":-119,"c":-122},{"f":2.40925,"a":-104,"b":-134,"c":-128},{"f":2.40935,"a":-109,"b":-122,"c":-135},{"f":2.40945,"a":-106,"b":-126,"c":-126},
{"f":2.40955,"a":-113,"b":-118,"c":-123},{"f":2.40965,"a":-103,"b":-130,"c":-129},{"f":2.40975,"a":-110,"b":-121,"c":-126},{"f":2.40985,"a":-107,"b":-127,"c":-123},{"f":2.40995,"a":-114,"b":-119,"c":-131},
{"f":2.41005,"a":-105,"b":-137,"c":-127},{"f":2.41015,"a":-111,"b":-122,"c":-124},{"f":2.41025,"a":-108,"b":-125,"c":-130},{"f":2.41035,"a":-115,"b":-117,"c":-125},{"f":2.41045,"a":-106,"b":-129,"c":-122},
{"f":2.41055,"a":-112,"b":-121,"c":-128},{"f":2.41065,"a":-109,"b":-128,"c":-126},{"f":2.41075,"a":-116,"b":-119,"c":-133},{"f":2.41085,"a":-108,"b":-133,"c":-124},{"f":2.41095,"a":-113,"b":-122,"c":-122},
{"f":2.41105,"a":-110,"b":-126,"c":-129},{"f":2.41115,"a":-116,"b":-118,"c":-126},{"f":2.41125,"a":-109,"b":-130,"c":-123},{"f":2.41135,"a":-114,"b":-121,"c":-131},{"f":2.41145,"a":-111,"b":-127,"c":-127},
{"f":2.41155,"a":-117,"b":-119,"c":-124},{"f":2.41165,"a":-110,"b":-135,"c":-130},{"f":2.41175,"a":-115,"b":-122,"c":-125},{"f":2.41185,"a":-112,"b":-125,"c":-122},{"f":2.41195,"a":-117,"b":-117,"c":-128},
{"f":2.41205,"a":-111,"b":-129,"c":-136},{"f":2.41215,"a":-115,"b":-121,"c":-126},{"f":2.41225,"a":-113,"b":-128,"c":-123},{"f":2.41235,"a":-118,"b":-119,"c":-129},{"f":2.41245,"a":-112,"b":-134,"c":-126},
{"f":2.41255,"a":-116,"b":-122,"c":-123},{"f":2.41265,"a":-114,"b":-126,"c":-132},{"f":2.41275,"a":-118,"b":-118,"c":-127},{"f":2.41285,"a":-113,"b":-130,"c":-124},{"f":2.41295,"a":-117,"b":-121,"c":-130},
{"f":2.41305,"a":-114,"b":-127,"c":-125},{"f":2.41315,"a":-119,"b":-119,"c":-122},{"f":2.41325,"a":-113,"b":-136,"c":-128},{"f":2.41335,"a":-117,"b":-122,"c":-126},{"f":2.41345,"a":-115,"b":-125,"c":-123},
{"f":2.41355,"a":-119,"b":-117,"c":-131},{"f":2.41365,"a":-114,"b":-129,"c":-127},{"f":2.41375,"a":-118,"b":-121,"c":-124},{"f":2.41385,"a":-116,"b":-128,"c":-135},{"f":2.41395,"a":-119,"b":-119,"c":-125},
{"f":2.41405,"a":-115,"b":-133,"c":-122},{"f":2.41415,"a":-118,"b":-122,"c":-129},{"f":2.41425,"a":-116,"b":-126,"c":-126},{"f":2.41435,"a":-120,"b":-118,"c":-123},{"f":2.41445,"a":-115,"b":-130,"c":-130},
{"f":2.41455,"a":-118,"b":-121,"c":-127},{"f":2.41465,"a":-117,"b":-127,"c":-124},{"f":2.41475,"a":-120,"b":-119,"c":-133},{"f":2.41485,"a":-116,"b":-135,"c":-125},{"f":2.41495,"a":-119,"b":-122,"c":-122},
{"f":2.41505,"a":-117,"b":-125,"c":-128},{"f":2.41515,"a":-120,"b":-117,"c":-126},{"f":2.41525,"a":-116,"b":-129,"c":-123},{"f":2.41535,"a":-119,"b":-121,"c":-131},{"f":2.41545,"a":-117,"b":-128,"c":-127},
{"f":2.41555,"a":-120,"b":-119,"c":-124},{"f":2.41565,"a":-117,"b":-134,"c":-130},{"f":2.41575,"a":-119,"b":-122,"c":-125},{"f":2.41585,"a":-118,"b":-126,"c":-122},{"f":2.41595,"a":-121,"b":-118,"c":-128},
{"f":2.41605,"a":-117,"b":-130,"c":-135},{"f":2.41615,"a":-119,"b":-121,"c":-126},{"f":2.41625,"a":-118,"b":-127,"c":-123},{"f":2.41635,"a":-120,"b":-119,"c":-129},{"f":2.41645,"a":-117,"b":-136,"c":-126},
{"f":2.41655,"a":-120,"b":-122,"c":-123},{"f":2.41665,"a":-118,"b":-125,"c":-132},{"f":2.41675,"a":-121,"b":-117,"c":-127},{"f":2.41685,"a":-118,"b":-129,"c":-124},{"f":2.41695,"a":-120,"b":-121,"c":-130},
{"f":2.41705,"a":-118,"b":-128,"c":-125},{"f":2.41715,"a":-121,"b":-119,"c":-122},{"f":2.41725,"a":-118,"b":-133,"c":-128},{"f":2.41735,"a":-120,"b":-122,"c":-126},{"f":2.41745,"a":-119,"b":-126,"c":-123},
{"f":2.41755,"a":-121,"b":-118,"c":-131},{"f":2.41765,"a":-118,"b":-130,"c":-127},{"f":2.41775,"a":-120,"b":-121,"c":-124},{"f":2.41785,"a":-119,"b":-127,"c":-134},{"f":2.41795,"a":-121,"b":-119,"c":-125},
{"f":2.41805,"a":-118,"b":-135,"c":-122},{"f":2.41815,"a":-120,"b":-122,"c":-129},{"f":2.41825,"a":-119,"b":-125,"c":-126},{"f":2.41835,"a":-121,"b":-117,"c":-123},{"f":2.41845,"a":-119,"b":-129,"c":-130},
{"f":2.41855,"a":-120,"b":-121,"c":-127},{"f":2.41865,"a":-119,"b":-128,"c":-124},{"f":2.41875,"a":-121,"b":-119,"c":-133},{"f":2.41885,"a":-119,"b":-134,"c":-125},{"f":2.41895,"a":-120,"b":-122,"c":-122},
{"f":2.41905,"a":-119,"b":-126,"c":-128},{"f":2.41915,"a":-121,"b":-118,"c":-126},{"f":2.41925,"a":-119,"b":-130,"c":-123},{"f":2.41935,"a":-120,"b":-121,"c":-131},{"f":2.41945,"a":-119,"b":-127,"c":-127},
{"f":2.41955,"a":-121,"b":-119,"c":-124},{"f":2.41965,"a":-119,"b":-136,"c":-130},{"f":2.41975,"a":-120,"b":-122,"c":-125},{"f":2.41985,"a":-119,"b":-125,"c":-122},{"f":2.41995,"a":-120,"b":-117,"c":-128}
],
"ann": [
{"f":2.3806,"v":-65.7,"t":"Residual Self-Interference","s":"res"},
{"f":2.41055,"v":-65.7,"t":"Self-Interference","s":"si"},
{"f":2.40572,"v":-168.9,"t":"Thermal Noise","s":"tn"}
],
"arr": [
{"f":2.38549,"v":-72.6,"f2":2.39547,"v2":-119.21,"s":"res"},
{"f":2.39519,"v":-115.68,"f2":2.39547,"v2":-119.21,"s":"res"},
{"f":2.39472,"v":-117.95,"f2":2.39547,"v2":-119.21,"s":"res"},
{"f":2.41293,"v":-68.19,"f2":2.40856,"v2":-88.35,"s":"si"},
{"f":2.40936,"v":-87.4,"f2":2.40856,"v2":-88.35,"s":"si"},
{"f":2.40889,"v":-84.57,"f2":2.40856,"v2":-88.35,"s":"si"},
{"f":2.40784,"v":-165.51,"f2":2.40076,"v2":-141.89,"s":"tn"},
{"f":2.40116,"v":-145.17,"f2":2.40076,"v2":-141.89,"s":"tn"},
{"f":2.40154,"v":-142.55,"f2":2.40076,"v2":-141.89,"s":"tn"}
]
},
"resolve": {"scale": {"color": "independent"}},
"layer": [
{"data": {"name": "d"},
 "mark": {"type": "line", "color": "#ff0000", "strokeWidth": 1.2, "clip": true},
 "encoding": {
  "x": {"field": "f", "type": "quantitative", "title": "freq, GHz",
   "scale": {"domain": [2.38, 2.42], "nice": false, "zero": false},
   "axis": {
    "values": [2.380,2.381,2.382,2.383,2.384,2.385,2.386,2.387,2.388,2.389,2.390,2.391,2.392,2.393,2.394,2.395,2.396,2.397,2.398,2.399,2.400,2.401,2.402,2.403,2.404,2.405,2.406,2.407,2.408,2.409,2.410,2.411,2.412,2.413,2.414,2.415,2.416,2.417,2.418,2.419,2.420],
    "tickCount": 100,
    "labelExpr": "round(datum.value*1000)%5===0 ? format(datum.value,'.3f') : ''",
    "tickSize": {"condition": {"test": "round(datum.value*1000)%5!==0", "value": 8}, "value": 15},
    "gridOpacity": {"condition": {"test": "round(datum.value*1000)%5!==0", "value": 0}, "value": 1},
    "grid": true, "gridColor": "#c8c8c8", "gridWidth": 1.5,
    "domainColor": "#222", "domainWidth": 1.5, "tickColor": "#222", "tickWidth": 1.5,
    "labelFontSize": 17.5, "labelColor": "#222", "labelPadding": 4, "labelFlush": false, "labelOverlap": false,
    "titleFontSize": 21, "titleFontWeight": "normal", "titleColor": "#222", "titleY": 70, "titleBaseline": "middle"
   }},
  "y": {"field": "a", "type": "quantitative", "title": "dBm(S.DF.S)",
   "scale": {"domain": [-180, -60], "nice": false, "zero": false},
   "axis": {
    "values": [-180,-170,-160,-150,-140,-130,-120,-110,-100,-90,-80,-70,-60],
    "tickCount": 100,
    "labelExpr": "datum.value % 20 === 0 ? '' + datum.value : ''",
    "tickSize": {"condition": {"test": "datum.value % 20 !== 0", "value": 8}, "value": 15},
    "gridOpacity": {"condition": {"test": "datum.value % 20 !== 0", "value": 0}, "value": 1},
    "grid": true, "gridColor": "#c8c8c8", "gridWidth": 1.5,
    "domainColor": "#222", "domainWidth": 1.5, "tickColor": "#222", "tickWidth": 1.5,
    "labelFontSize": 17.5, "labelColor": "#222", "labelPadding": 3, "labelFlush": false, "labelOverlap": false,
    "titleFontSize": 21, "titleFontWeight": "normal", "titleColor": "#ff2020", "titleX": -86, "titleY": 190, "titleBaseline": "middle"
   }}
 }},
{"data": {"name": "d"},
 "mark": {"type": "line", "color": "#1414c8", "strokeWidth": 1.1, "clip": true},
 "encoding": {
  "x": {"field": "f", "type": "quantitative", "title": "freq, GHz"},
  "y": {"field": "b", "type": "quantitative", "title": "dBm(S.DF.S)"}
 }},
{"data": {"name": "d"},
 "mark": {"type": "line", "color": "#ff00ff", "strokeWidth": 1.2, "clip": true},
 "encoding": {
  "x": {"field": "f", "type": "quantitative", "title": "freq, GHz"},
  "y": {"field": "c", "type": "quantitative", "title": "dBm(S.DF.S)"}
 }},
{"data": {"name": "arr"},
 "mark": {"type": "rule", "strokeWidth": 1.5},
 "encoding": {
  "x": {"field": "f", "type": "quantitative", "title": "freq, GHz"},
  "x2": {"field": "f2"},
  "y": {"field": "v", "type": "quantitative", "title": "dBm(S.DF.S)"},
  "y2": {"field": "v2"},
  "color": {"field": "s", "type": "nominal", "legend": null,
   "scale": {"domain": ["res", "si", "tn"], "range": ["#1f1fa8", "#ff2020", "#ff3fa8"]}}
 }},
{"data": {"name": "ann"},
 "mark": {"type": "text", "align": "left", "baseline": "middle", "fontSize": 18, "font": "Liberation Sans"},
 "encoding": {
  "x": {"field": "f", "type": "quantitative", "title": "freq, GHz"},
  "y": {"field": "v", "type": "quantitative", "title": "dBm(S.DF.S)"},
  "text": {"field": "t"},
  "color": {"field": "s", "type": "nominal", "legend": null,
   "scale": {"domain": ["res", "si", "tn"], "range": ["#2a2ae6", "#ff2020", "#ff1acd"]}}
 }}
]
}
